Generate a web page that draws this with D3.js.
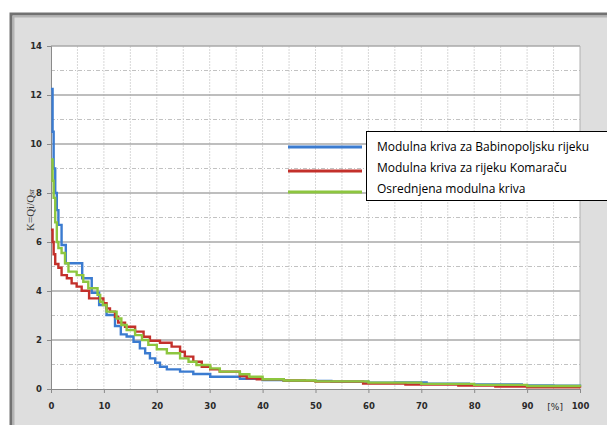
<!DOCTYPE html>
<html lang="en">
<head>
    <meta charset="UTF-8">
    <title>Modulne krive</title>
    <script src="https://d3js.org/d3.v7.min.js"></script>
    <style>
        body { margin: 0; background: #fff; }
    </style>
</head>
<body>
<script>
    // step curves, [percent of time, K = Qi/Qsr]
    var babinopoljska = [
        [0, 12.25], [0.3, 10.5], [0.5, 9.0], [0.8, 8.0], [1.1, 7.3], [1.4, 6.7], [2.0, 5.88],
        [2.8, 5.13], [5.9, 4.52], [7.7, 3.93], [9.1, 3.43], [10.5, 3.02], [12.1, 2.57],
        [13.2, 2.23], [14.3, 2.14], [15.6, 1.93], [16.8, 1.66], [17.8, 1.46], [18.7, 1.25],
        [19.7, 1.07], [20.6, 0.91], [21.9, 0.80], [24.4, 0.71], [26.9, 0.61], [30.1, 0.5],
        [35.7, 0.42], [40, 0.37], [44, 0.33], [53, 0.3], [60, 0.26], [65, 0.27], [71, 0.22],
        [79, 0.19], [89, 0.15], [95, 0.13], [100, 0.12]
    ];
    var komaraca = [
        [0, 6.5], [0.3, 6.0], [0.5, 5.5], [0.8, 5.1], [1.4, 4.95], [2.0, 4.65], [3.0, 4.52],
        [3.9, 4.31], [4.85, 4.18], [5.8, 4.01], [7.2, 3.7], [9.9, 3.5], [10.5, 3.29],
        [11.15, 3.16], [12.1, 2.95], [12.7, 2.71], [14.0, 2.54], [15.9, 2.34], [17.5, 2.13],
        [18.7, 1.97], [20.6, 1.89], [22.8, 1.73], [24.4, 1.52], [25.3, 1.32], [26.9, 1.11],
        [28.5, 0.91], [30.1, 0.80], [31.9, 0.71], [35.7, 0.53], [37.0, 0.44], [38.9, 0.40],
        [44, 0.35], [48, 0.33], [50, 0.3], [59, 0.22], [62, 0.22], [67, 0.18], [77, 0.14],
        [84, 0.1], [90, 0.07], [100, 0.05]
    ];
    var osrednjena = [
        [0, 9.37], [0.3, 8.5], [0.5, 7.8], [0.8, 6.8], [1.1, 6.0], [1.4, 5.75], [2.0, 5.55],
        [2.65, 5.13], [3.3, 4.79], [4.85, 4.65], [6.1, 4.38], [7.05, 4.11], [8.8, 3.84],
        [9.3, 3.56], [9.8, 3.43], [10.5, 3.16], [12.4, 2.88], [13.3, 2.61], [14.3, 2.41],
        [15.9, 2.2], [17.2, 2.0], [18.4, 1.8], [20.0, 1.62], [21.9, 1.46], [24.4, 1.25],
        [26.0, 1.11], [27.5, 0.98], [30.1, 0.84], [31.9, 0.71], [35.7, 0.6], [37.5, 0.5],
        [40, 0.4], [44, 0.35], [50, 0.31], [60, 0.26], [70, 0.21], [80, 0.17], [90, 0.12],
        [100, 0.09]
    ];

    var seriesNames = ["Modulna kriva za Babinopoljsku rijeku", "Modulna kriva za rijeku Komaraču", "Osrednjena modulna kriva"];
    var seriesColors = ["#3b7bd0", "#c3302b", "#8dc63f"];
    var xTicks = [0, 10, 20, 30, 40, 50, 60, 70, 80, 90, 100];
    var yTicks = [0, 2, 4, 6, 8, 10, 12, 14];

    var margin = {top: 46, left: 51},
        width = 529,
        height = 343;

    var svg = d3.select("body").append("svg")
        .attr("width", 607)
        .attr("height", 425);

    // grey frame around the chart
    svg.append("rect")
        .attr("x", 11).attr("y", 14)
        .attr("width", 640).attr("height", 460)
        .attr("fill", "#dedede")
        .attr("stroke", "#727272")
        .attr("stroke-width", 3);
    svg.append("rect")
        .attr("x", 13.5).attr("y", 16.5)
        .attr("width", 640).attr("height", 460)
        .attr("fill", "none")
        .attr("stroke", "#b4b4b4")
        .attr("stroke-width", 2);

    var g = svg.append("g")
        .attr("transform", "translate(" + margin.left + "," + margin.top + ")");

    var xScale = d3.scaleLinear().domain([0, 100]).range([0, width]);
    var yScale = d3.scaleLinear().domain([0, 14]).range([height, 0]);

    g.append("rect")
        .attr("width", width).attr("height", height)
        .attr("fill", "#fff");

    // vertical grid every 5 %
    g.selectAll(".vgrid")
        .data(d3.range(5, 100, 5))
        .enter().append("line")
        .attr("x1", d => xScale(d)).attr("x2", d => xScale(d))
        .attr("y1", 0).attr("y2", height)
        .attr("stroke", "#d8d8d8")
        .attr("stroke-dasharray", "2,1");

    // minor horizontal grid (dash-dot)
    g.selectAll(".minor")
        .data(d3.range(1, 14, 2))
        .enter().append("line")
        .attr("x1", 0).attr("x2", width)
        .attr("y1", d => yScale(d)).attr("y2", d => yScale(d))
        .attr("stroke", "#c2c2c2")
        .attr("stroke-dasharray", "4,2,1,2");

    // major horizontal grid
    g.selectAll(".major")
        .data(yTicks.slice(1))
        .enter().append("line")
        .attr("x1", 0).attr("x2", width)
        .attr("y1", d => yScale(d)).attr("y2", d => yScale(d))
        .attr("stroke", "#a8a8a8")
        .attr("stroke-width", 1.3);

    g.append("line")
        .attr("x1", width).attr("x2", width)
        .attr("y1", 0).attr("y2", height)
        .attr("stroke", "#b0b0b0");

    // axes
    var x_axis = d3.axisBottom(xScale)
        .tickValues(xTicks)
        .tickSize(4)
        .tickPadding(10)
        .tickFormat(d3.format("d"));
    var y_axis = d3.axisLeft(yScale)
        .tickValues(yTicks)
        .tickSize(4)
        .tickPadding(5)
        .tickFormat(d3.format("d"));

    g.append("g")
        .attr("transform", "translate(0," + height + ")")
        .call(x_axis);
    g.append("g")
        .call(y_axis);

    g.selectAll(".domain").attr("stroke", "#8a8a8a");
    g.selectAll(".tick line").attr("stroke", "#8a8a8a");
    g.selectAll(".tick text")
        .attr("fill", "#2a2a2a")
        .style("font-family", "'DejaVu Sans', sans-serif")
        .style("font-size", "8.5px")
        .style("font-weight", "600");

    g.append("text")
        .attr("x", xScale(95.3))
        .attr("y", height + 21)
        .attr("text-anchor", "middle")
        .attr("fill", "#2a2a2a")
        .style("font-family", "'DejaVu Sans', sans-serif")
        .style("font-size", "9px")
        .text("[%]");

    // y label
    var yl = svg.append("text")
        .attr("transform", "translate(34,210) rotate(-90)")
        .attr("text-anchor", "middle")
        .attr("fill", "#333")
        .style("font-family", "'Liberation Serif', serif")
        .style("font-size", "11px");
    yl.append("tspan").text("K=Qi/Q");
    yl.append("tspan").style("font-size", "8px").text("sr");

    // curves
    var line = d3.line()
        .x(d => xScale(d[0]))
        .y(d => yScale(d[1]))
        .curve(d3.curveStepAfter);

    [babinopoljska, komaraca, osrednjena].forEach(function (data, i) {
        g.append("path")
            .datum(data)
            .attr("fill", "none")
            .attr("stroke", seriesColors[i])
            .attr("stroke-width", 2.4)
            .attr("d", line);
    });

    // legend
    var legendY = [147, 171, 192];
    svg.append("rect")
        .attr("x", 366.5).attr("y", 131.5)
        .attr("width", 300).attr("height", 69)
        .attr("fill", "#fff")
        .attr("stroke", "#000");

    seriesNames.forEach(function (name, i) {
        svg.append("line")
            .attr("x1", 288).attr("x2", 362)
            .attr("y1", legendY[i]).attr("y2", legendY[i])
            .attr("stroke", seriesColors[i])
            .attr("stroke-width", 3);
        svg.append("text")
            .attr("x", 377)
            .attr("y", 151 + i * 21)
            .attr("fill", "#000")
            .style("font-family", "'Open Sans', sans-serif")
            .style("font-size", "12px")
            .text(name);
    });
</script>
</body>
</html>
